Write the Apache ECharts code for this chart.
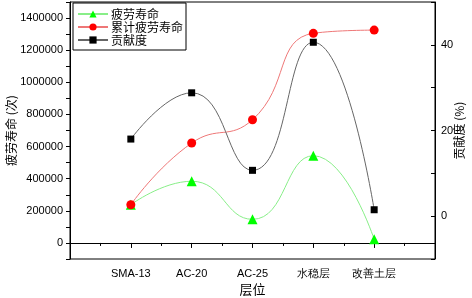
<!DOCTYPE html>
<html><head><meta charset="utf-8">
<script src="https://cdn.jsdelivr.net/npm/echarts@6/dist/echarts.min.js"></script>
<style>html,body{margin:0;padding:0;background:#fff}#c{width:472px;height:298px}</style>
</head><body><div id="c"></div>
<script>
var categories = ['SMA-13', 'AC-20', 'AC-25', '水稳层', '改善土层'];
var fatigueLife = [238000, 384000, 147000, 543000, 23000];
var cumulativeLife = [238000, 622000, 767000, 1305000, 1325000];
var contribution = [18.0, 28.8, 10.7, 40.6, 1.5];
var leftTicks = [0, 200000, 400000, 600000, 800000, 1000000, 1200000, 1400000];
var rightTicks = [0, 20, 40];

function pairs(vals){ return vals.map(function(v,i){ return [i+1, v]; }); }

var chart = echarts.init(document.getElementById('c'));
var font = 'Liberation Sans, Arial, sans-serif';
var cjk = '"Noto Sans CJK SC", sans-serif';
chart.setOption({
  animation:false,
  grid:{left:70,right:37,top:2,bottom:39,show:true,borderColor:'#000',borderWidth:1,
        containLabel:false, outerBoundsMode:'none'},
  legend:{
    orient:'vertical', left:73, top:3, itemGap:1, itemWidth:30, itemHeight:9,
    padding:[5,3,4,4], borderColor:'#000', borderWidth:1, backgroundColor:'#fff',
    textStyle:{fontFamily:cjk,fontSize:12,color:'#000',padding:[0,0,0,-2]},
    data:['疲劳寿命','累计疲劳寿命','贡献度']
  },
  xAxis:{
    type:'value', min:0, max:6, interval:1,
    name:'层位', nameLocation:'middle', nameGap:24, nameMoveOverlap:false,
    nameTextStyle:{fontFamily:cjk,fontSize:13,color:'#000'},
    axisLine:{lineStyle:{color:'#000',width:1}},
    axisTick:{show:true,length:5,inside:false,lineStyle:{color:'#000'}},
    minorTick:{show:true,splitNumber:2,length:3,lineStyle:{color:'#000'}},
    splitLine:{show:false},
    axisLabel:{fontFamily:font,fontSize:11,color:'#000',margin:9,
      formatter:function(v){ return (v>=1 && v<=categories.length) ? categories[v-1] : ''; }}
  },
  yAxis:[{
    type:'value', min:-100000, max:1500000, interval:100000,
    name:'疲劳寿命 (次)', nameLocation:'middle', nameGap:53, nameMoveOverlap:false,
    nameTextStyle:{fontFamily:cjk,fontSize:12,color:'#000'},
    axisLine:{show:true,lineStyle:{color:'#000',width:1}},
    axisTick:{show:true,length:4,inside:false,lineStyle:{color:'#000'}},
    splitLine:{show:false},
    axisLabel:{fontFamily:font,fontSize:11,color:'#000',margin:7,
      formatter:function(v){ return leftTicks.indexOf(v)>=0 ? String(v) : ''; }}
  },{
    type:'value', min:-10, max:50, interval:10, position:'right',
    name:'贡献度 (%)', nameLocation:'middle', nameGap:18, nameRotate:90, nameMoveOverlap:false,
    nameTextStyle:{fontFamily:cjk,fontSize:12,color:'#000'},
    axisLine:{show:true,lineStyle:{color:'#000',width:1}},
    axisTick:{show:true,length:4,inside:true,lineStyle:{color:'#000'}},
    splitLine:{show:false},
    axisLabel:{fontFamily:font,fontSize:11,color:'#000',margin:6,
      formatter:function(v){ return rightTicks.indexOf(v)>=0 ? String(v) : ''; }}
  }],
  series:[{
    name:'疲劳寿命', type:'line', yAxisIndex:0, smooth:0.5,
    data:pairs(fatigueLife), symbol:'triangle', symbolSize:10,
    lineStyle:{color:'#88ee88',width:1}, itemStyle:{color:'#00ff00'}
  },{
    name:'累计疲劳寿命', type:'line', yAxisIndex:0, smooth:0.5,
    data:pairs(cumulativeLife), symbol:'circle', symbolSize:9,
    lineStyle:{color:'#ee7777',width:1}, itemStyle:{color:'#ff0000'}
  },{
    name:'贡献度', type:'line', yAxisIndex:1, smooth:0.5,
    data:pairs(contribution), symbol:'rect', symbolSize:7,
    lineStyle:{color:'#666666',width:1}, itemStyle:{color:'#000'}
  }]
});
</script></body></html>
